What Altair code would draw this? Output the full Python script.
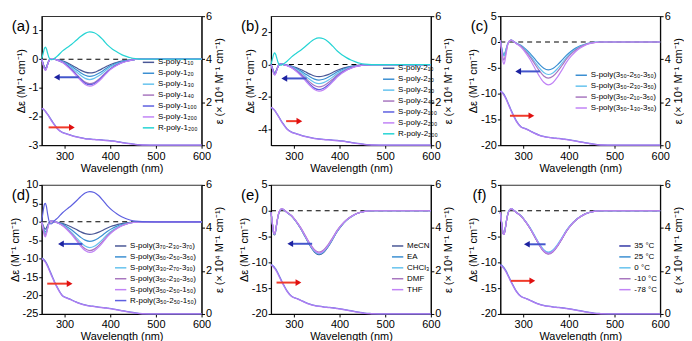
import altair as alt
import pandas as pd

FONT = "Liberation Sans"

# wavelength grid (nm)
W = [250, 253, 256, 258, 260, 263, 266, 270, 274, 278, 285, 295, 305, 315, 325,
     335, 345, 355, 365, 375, 385, 395, 405, 415, 425, 435, 445, 455, 470, 500, 600]

SLATE = "#4a5796"
STEEL = "#3b8fd2"
SKY = "#66c3ee"
MAUVE = "#a877bf"
VIOLET = "#5d5fe0"
LILAC = "#c183f6"
CYAN = "#25d4d4"
DKBLUE = "#3338a6"
UV_BLUE = "#5f78dc"
UV_LILAC = "#b07cf2"

# ---------------- panel (a) ----------------
A_NAMES = ["S-poly-1₁₀", "S-poly-1₂₀", "S-poly-1₃₀", "S-poly-1₄₀",
           "S-poly-1₁₀₀", "S-poly-1₂₀₀", "R-poly-1₂₀₀"]
A_CD = [
    [0.0, -0.15, -0.28, -0.32, -0.28, -0.15, -0.04, 0.02, 0.02, 0.0, -0.02, -0.06, -0.12, -0.20, -0.29, -0.38, -0.45, -0.48, -0.46, -0.39, -0.31, -0.23, -0.16, -0.11, -0.07, -0.04, -0.02, -0.01, 0.0, 0.0, 0.0],
    [0.0, -0.16, -0.30, -0.34, -0.30, -0.16, -0.04, 0.02, 0.02, 0.0, -0.02, -0.07, -0.15, -0.25, -0.36, -0.47, -0.56, -0.60, -0.57, -0.49, -0.39, -0.28, -0.20, -0.13, -0.08, -0.05, -0.02, -0.01, 0.0, 0.0, 0.0],
    [0.0, -0.16, -0.31, -0.35, -0.31, -0.17, -0.05, 0.02, 0.02, 0.0, -0.03, -0.09, -0.18, -0.29, -0.43, -0.56, -0.67, -0.71, -0.67, -0.58, -0.46, -0.33, -0.23, -0.16, -0.10, -0.06, -0.03, -0.01, 0.0, 0.0, 0.0],
    [0.0, -0.17, -0.32, -0.37, -0.32, -0.18, -0.05, 0.02, 0.02, 0.0, -0.03, -0.10, -0.21, -0.35, -0.51, -0.67, -0.80, -0.85, -0.81, -0.70, -0.55, -0.40, -0.28, -0.19, -0.12, -0.07, -0.03, -0.01, 0.0, 0.0, 0.0],
    [0.0, -0.17, -0.33, -0.38, -0.33, -0.18, -0.05, 0.02, 0.02, 0.0, -0.04, -0.11, -0.22, -0.36, -0.53, -0.70, -0.84, -0.89, -0.85, -0.73, -0.58, -0.42, -0.29, -0.20, -0.12, -0.07, -0.04, -0.01, 0.0, 0.0, 0.0],
    [0.0, -0.18, -0.34, -0.39, -0.34, -0.19, -0.05, 0.02, 0.02, 0.0, -0.04, -0.11, -0.24, -0.39, -0.56, -0.74, -0.88, -0.94, -0.89, -0.77, -0.61, -0.44, -0.31, -0.21, -0.13, -0.08, -0.04, -0.01, 0.0, 0.0, 0.0],
    [0.02, 0.20, 0.38, 0.42, 0.37, 0.20, 0.05, -0.02, -0.01, 0.03, 0.12, 0.28, 0.40, 0.51, 0.65, 0.79, 0.90, 0.95, 0.92, 0.82, 0.66, 0.48, 0.35, 0.25, 0.16, 0.10, 0.05, 0.02, 0.0, 0.0, 0.0],
]
A_UV1 = [1.70, 1.67, 1.62, 1.57, 1.51, 1.43, 1.34, 1.21, 1.08, 0.96, 0.76, 0.60, 0.53, 0.46, 0.40, 0.35, 0.31, 0.29, 0.27, 0.26, 0.24, 0.22, 0.20, 0.17, 0.13, 0.10, 0.07, 0.04, 0.02, 0.0, 0.0]
A_UV2 = [1.72, 1.69, 1.63, 1.58, 1.52, 1.42, 1.32, 1.18, 1.05, 0.93, 0.74, 0.59, 0.52, 0.45, 0.39, 0.34, 0.30, 0.28, 0.26, 0.25, 0.23, 0.21, 0.19, 0.16, 0.12, 0.09, 0.06, 0.03, 0.01, 0.0, 0.0]

# ---------------- panel (b) ----------------
B_NAMES = ["S-poly-2₁₀", "S-poly-2₂₀", "S-poly-2₃₀", "S-poly-2₄₀",
           "S-poly-2₁₀₀", "S-poly-2₂₀₀", "R-poly-2₂₀₀"]
B_CD = [
    [0.0, -0.22, -0.45, -0.52, -0.45, -0.25, -0.07, 0.03, 0.03, 0.0, -0.03, -0.09, -0.19, -0.31, -0.45, -0.59, -0.71, -0.75, -0.71, -0.62, -0.49, -0.35, -0.25, -0.17, -0.11, -0.06, -0.03, -0.01, 0.0, 0.0, 0.0],
    [0.0, -0.23, -0.47, -0.55, -0.47, -0.26, -0.07, 0.03, 0.03, 0.0, -0.04, -0.12, -0.24, -0.39, -0.58, -0.76, -0.90, -0.96, -0.91, -0.79, -0.62, -0.45, -0.32, -0.21, -0.13, -0.08, -0.04, -0.01, 0.0, 0.0, 0.0],
    [0.0, -0.24, -0.50, -0.58, -0.50, -0.28, -0.08, 0.03, 0.03, 0.0, -0.05, -0.14, -0.30, -0.48, -0.71, -0.93, -1.11, -1.18, -1.12, -0.97, -0.77, -0.55, -0.39, -0.26, -0.17, -0.09, -0.05, -0.02, 0.0, 0.0, 0.0],
    [0.0, -0.25, -0.52, -0.60, -0.52, -0.29, -0.08, 0.03, 0.03, 0.0, -0.06, -0.17, -0.35, -0.57, -0.83, -1.09, -1.30, -1.38, -1.31, -1.13, -0.90, -0.65, -0.46, -0.30, -0.19, -0.11, -0.06, -0.02, 0.0, 0.0, 0.0],
    [0.0, -0.26, -0.55, -0.63, -0.55, -0.30, -0.08, 0.03, 0.03, 0.0, -0.06, -0.19, -0.39, -0.64, -0.93, -1.22, -1.46, -1.55, -1.47, -1.27, -1.01, -0.73, -0.51, -0.34, -0.22, -0.12, -0.06, -0.02, 0.0, 0.0, 0.0],
    [0.0, -0.27, -0.57, -0.66, -0.57, -0.31, -0.08, 0.03, 0.03, 0.0, -0.07, -0.20, -0.41, -0.68, -0.99, -1.30, -1.55, -1.65, -1.57, -1.35, -1.07, -0.78, -0.54, -0.36, -0.23, -0.13, -0.07, -0.02, 0.0, 0.0, 0.0],
    [0.03, 0.35, 0.65, 0.72, 0.64, 0.35, 0.08, -0.04, -0.02, 0.05, 0.21, 0.48, 0.69, 0.89, 1.12, 1.37, 1.57, 1.65, 1.60, 1.42, 1.14, 0.84, 0.61, 0.43, 0.28, 0.17, 0.08, 0.03, 0.0, 0.0, 0.0],
]
B_UV1 = [1.74, 1.71, 1.66, 1.61, 1.55, 1.46, 1.36, 1.22, 1.08, 0.96, 0.76, 0.61, 0.54, 0.47, 0.41, 0.36, 0.32, 0.29, 0.27, 0.26, 0.24, 0.22, 0.20, 0.17, 0.13, 0.10, 0.07, 0.04, 0.02, 0.0, 0.0]
B_UV2 = [1.76, 1.73, 1.67, 1.62, 1.56, 1.45, 1.34, 1.19, 1.05, 0.93, 0.74, 0.60, 0.53, 0.46, 0.40, 0.35, 0.31, 0.28, 0.26, 0.25, 0.23, 0.21, 0.19, 0.16, 0.12, 0.09, 0.06, 0.03, 0.01, 0.0, 0.0]

# ---------------- panel (c) ----------------
C_NAMES = ["S-poly(3₅₀-2₅₀-3₅₀)", "S-poly(3₅₀-2₃₀-3₅₀)",
           "S-poly(3₅₀-2₁₀-3₅₀)", "S-poly(3₅₀-1₃₀-3₅₀)"]
C_CD = [
    [0.3, -1.2, -2.3, -2.5, -2.1, -1.2, -0.4, 0.2, 0.35, 0.15, -0.22, -0.65, -1.35, -2.21, -3.24, -4.27, -5.08, -5.40, -5.13, -4.43, -3.51, -2.54, -1.78, -1.19, -0.76, -0.43, -0.22, -0.08, 0.0, 0.0, 0.0],
    [0.3, -1.3, -2.5, -2.7, -2.3, -1.3, -0.4, 0.2, 0.35, 0.15, -0.25, -0.76, -1.58, -2.58, -3.78, -4.98, -5.92, -6.30, -5.99, -5.17, -4.10, -2.96, -2.08, -1.39, -0.88, -0.50, -0.25, -0.09, 0.0, 0.0, 0.0],
    [0.3, -1.6, -3.2, -3.5, -3.0, -1.7, -0.5, 0.2, 0.35, 0.15, -0.28, -0.84, -1.75, -2.87, -4.20, -5.53, -6.58, -7.00, -6.65, -5.74, -4.55, -3.29, -2.31, -1.54, -0.98, -0.56, -0.28, -0.11, 0.0, 0.0, 0.0],
    [0.3, -2.0, -3.9, -4.3, -3.7, -2.1, -0.6, 0.2, 0.35, 0.15, -0.33, -1.00, -2.08, -3.40, -4.98, -6.56, -7.80, -8.30, -7.89, -6.81, -5.40, -3.90, -2.74, -1.83, -1.16, -0.66, -0.33, -0.12, 0.0, 0.0, 0.0],
]
C_UV1 = [2.52, 2.49, 2.42, 2.36, 2.29, 2.16, 2.01, 1.81, 1.61, 1.43, 1.13, 0.86, 0.77, 0.67, 0.56, 0.47, 0.41, 0.37, 0.34, 0.32, 0.30, 0.27, 0.24, 0.20, 0.16, 0.12, 0.08, 0.05, 0.02, 0.0, 0.0]
C_UV2 = [2.50, 2.46, 2.38, 2.32, 2.25, 2.12, 1.97, 1.77, 1.57, 1.40, 1.11, 0.85, 0.76, 0.66, 0.55, 0.46, 0.40, 0.36, 0.33, 0.31, 0.29, 0.26, 0.23, 0.19, 0.15, 0.11, 0.07, 0.04, 0.01, 0.0, 0.0]

# ---------------- panel (d) ----------------
D_NAMES = ["S-poly(3₇₀-2₃₀-3₇₀)", "S-poly(3₅₀-2₅₀-3₅₀)", "S-poly(3₃₀-2₇₀-3₃₀)",
           "S-poly(3₅₀-2₃₀-3₅₀)", "S-poly(3₅₀-2₅₀-1₅₀)", "R-poly(3₅₀-2₅₀-1₅₀)"]
D_CD = [
    [0.0, -1.0, -1.8, -2.0, -1.7, -0.9, -0.2, 0.2, 0.2, 0.05, -0.14, -0.41, -0.85, -1.39, -2.04, -2.69, -3.20, -3.40, -3.23, -2.79, -2.21, -1.60, -1.12, -0.75, -0.48, -0.27, -0.14, -0.05, 0.0, 0.0, 0.0],
    [0.0, -1.3, -2.5, -2.8, -2.4, -1.3, -0.3, 0.2, 0.2, 0.05, -0.21, -0.64, -1.33, -2.17, -3.18, -4.19, -4.98, -5.30, -5.04, -4.35, -3.45, -2.49, -1.75, -1.17, -0.74, -0.42, -0.21, -0.08, 0.0, 0.0, 0.0],
    [0.0, -1.6, -3.0, -3.3, -2.8, -1.5, -0.4, 0.2, 0.2, 0.05, -0.28, -0.84, -1.75, -2.87, -4.20, -5.53, -6.58, -7.00, -6.65, -5.74, -4.55, -3.29, -2.31, -1.54, -0.98, -0.56, -0.28, -0.11, 0.0, 0.0, 0.0],
    [0.0, -1.8, -3.4, -3.7, -3.1, -1.7, -0.4, 0.2, 0.2, 0.05, -0.31, -0.94, -1.95, -3.20, -4.68, -6.16, -7.33, -7.80, -7.41, -6.40, -5.07, -3.67, -2.57, -1.72, -1.09, -0.62, -0.31, -0.12, 0.0, 0.0, 0.0],
    [0.0, -2.0, -3.8, -4.1, -3.4, -1.8, -0.5, 0.2, 0.2, 0.05, -0.33, -1.00, -2.08, -3.40, -4.98, -6.56, -7.80, -8.30, -7.89, -6.81, -5.40, -3.90, -2.74, -1.83, -1.16, -0.66, -0.33, -0.12, 0.0, 0.0, 0.0],
    [0.2, 2.8, 4.8, 5.0, 4.3, 2.0, 0.2, -0.6, -0.3, 0.3, 1.07, 2.38, 3.44, 4.43, 5.58, 6.81, 7.79, 8.20, 7.95, 7.05, 5.66, 4.18, 3.03, 2.13, 1.39, 0.82, 0.41, 0.16, 0.03, 0.0, 0.0],
]
D_UV1 = [2.60, 2.57, 2.50, 2.45, 2.38, 2.25, 2.10, 1.90, 1.70, 1.50, 1.20, 0.86, 0.75, 0.66, 0.56, 0.48, 0.42, 0.38, 0.35, 0.32, 0.30, 0.27, 0.24, 0.20, 0.16, 0.12, 0.08, 0.05, 0.02, 0.0, 0.0]
D_UV2 = [2.57, 2.53, 2.45, 2.40, 2.33, 2.20, 2.05, 1.85, 1.66, 1.47, 1.18, 0.85, 0.74, 0.65, 0.55, 0.47, 0.41, 0.37, 0.34, 0.31, 0.29, 0.26, 0.23, 0.19, 0.15, 0.11, 0.07, 0.04, 0.01, 0.0, 0.0]

# ---------------- panel (e) ----------------
E_NAMES = ["MeCN", "EA", "CHCl₃", "DMF", "THF"]
E_CD = [
    [-0.3, -2.6, -4.5, -4.7, -4.0, -2.2, -0.8, 0.1, 0.35, 0.15, -0.34, -1.02, -2.13, -3.49, -5.10, -6.72, -7.99, -8.50, -8.08, -6.97, -5.53, -4.00, -2.81, -1.87, -1.19, -0.68, -0.34, -0.13, 0.0, 0.0, 0.0],
    [-0.3, -2.6, -4.4, -4.6, -3.9, -2.2, -0.8, 0.1, 0.35, 0.15, -0.34, -1.01, -2.10, -3.44, -5.04, -6.64, -7.90, -8.40, -7.98, -6.89, -5.46, -3.95, -2.77, -1.85, -1.18, -0.67, -0.34, -0.13, 0.0, 0.0, 0.0],
    [-0.3, -2.5, -4.4, -4.6, -3.9, -2.2, -0.8, 0.1, 0.35, 0.15, -0.33, -1.00, -2.08, -3.40, -4.98, -6.56, -7.80, -8.30, -7.89, -6.81, -5.40, -3.90, -2.74, -1.83, -1.16, -0.66, -0.33, -0.12, 0.0, 0.0, 0.0],
    [-0.3, -2.5, -4.3, -4.5, -3.8, -2.1, -0.7, 0.15, 0.4, 0.2, -0.32, -0.96, -2.00, -3.28, -4.80, -6.32, -7.52, -8.00, -7.60, -6.56, -5.20, -3.76, -2.64, -1.76, -1.12, -0.64, -0.32, -0.12, 0.0, 0.0, 0.0],
    [-0.3, -2.5, -4.3, -4.5, -3.8, -2.1, -0.7, 0.15, 0.4, 0.2, -0.33, -0.98, -2.05, -3.36, -4.92, -6.48, -7.71, -8.20, -7.79, -6.72, -5.33, -3.85, -2.71, -1.80, -1.15, -0.66, -0.33, -0.12, 0.0, 0.0, 0.0],
]
E_UV1 = [2.30, 2.27, 2.21, 2.16, 2.10, 1.99, 1.86, 1.68, 1.50, 1.34, 1.07, 0.82, 0.73, 0.64, 0.54, 0.46, 0.40, 0.36, 0.33, 0.31, 0.29, 0.26, 0.23, 0.19, 0.15, 0.11, 0.07, 0.04, 0.02, 0.0, 0.0]
E_UV2 = [2.27, 2.23, 2.16, 2.11, 2.05, 1.94, 1.81, 1.64, 1.47, 1.31, 1.05, 0.81, 0.72, 0.63, 0.53, 0.45, 0.39, 0.35, 0.32, 0.30, 0.28, 0.25, 0.22, 0.18, 0.14, 0.10, 0.06, 0.03, 0.01, 0.0, 0.0]

# ---------------- panel (f) ----------------
F_NAMES = ["35 °C", "25 °C", "0 °C", "-10 °C", "-78 °C"]
F_CD = [
    [-0.3, -2.5, -4.4, -4.6, -3.9, -2.2, -0.8, 0.1, 0.35, 0.15, -0.33, -1.00, -2.08, -3.40, -4.98, -6.56, -7.80, -8.30, -7.89, -6.81, -5.40, -3.90, -2.74, -1.83, -1.16, -0.66, -0.33, -0.12, 0.0, 0.0, 0.0],
    [-0.3, -2.5, -4.3, -4.5, -3.8, -2.1, -0.7, 0.15, 0.4, 0.2, -0.33, -0.98, -2.05, -3.36, -4.92, -6.48, -7.71, -8.20, -7.79, -6.72, -5.33, -3.85, -2.71, -1.80, -1.15, -0.66, -0.33, -0.12, 0.0, 0.0, 0.0],
    [-0.3, -2.5, -4.3, -4.5, -3.8, -2.1, -0.7, 0.15, 0.4, 0.2, -0.32, -0.96, -2.00, -3.28, -4.80, -6.32, -7.52, -8.00, -7.60, -6.56, -5.20, -3.76, -2.64, -1.76, -1.12, -0.64, -0.32, -0.12, 0.0, 0.0, 0.0],
    [-0.3, -2.6, -4.4, -4.6, -3.9, -2.2, -0.8, 0.1, 0.35, 0.15, -0.34, -1.01, -2.10, -3.44, -5.04, -6.64, -7.90, -8.40, -7.98, -6.89, -5.46, -3.95, -2.77, -1.85, -1.18, -0.67, -0.34, -0.13, 0.0, 0.0, 0.0],
    [-0.3, -2.5, -4.4, -4.6, -3.9, -2.2, -0.8, 0.1, 0.4, 0.2, -0.33, -0.99, -2.06, -3.38, -4.95, -6.52, -7.75, -8.25, -7.84, -6.77, -5.36, -3.88, -2.72, -1.82, -1.15, -0.66, -0.33, -0.12, 0.0, 0.0, 0.0],
]
F_UV1 = [2.29, 2.26, 2.20, 2.15, 2.09, 1.98, 1.85, 1.67, 1.49, 1.33, 1.06, 0.82, 0.73, 0.64, 0.54, 0.46, 0.40, 0.36, 0.33, 0.31, 0.29, 0.26, 0.23, 0.19, 0.15, 0.11, 0.07, 0.04, 0.02, 0.0, 0.0]
F_UV2 = [2.26, 2.22, 2.15, 2.10, 2.04, 1.93, 1.80, 1.63, 1.46, 1.30, 1.04, 0.81, 0.72, 0.63, 0.53, 0.45, 0.39, 0.35, 0.32, 0.30, 0.28, 0.25, 0.22, 0.18, 0.14, 0.10, 0.06, 0.03, 0.01, 0.0, 0.0]

# arrows: [head wavelength, tail wavelength, value]  (blue -> left axis, red -> right axis)
BLUE_ARROWS = {"a": [283, 331, -0.63], "b": [279, 328, -0.86], "c": [289, 337, -5.7],
               "d": [292, 339, -6.0], "e": [292, 340, -6.4], "f": [308, 349, -6.5]}
RED_ARROWS = {"a": [265, 316, 0.83], "b": [283, 312, 1.12], "c": [271, 318, 1.37],
              "d": [262, 311, 1.41], "e": [262, 310, 1.46], "f": [273, 320, 1.54]}

PW, PH = 161, 130


def xdef(field="wl"):
    return alt.X(f"{field}:Q", scale=alt.Scale(domain=[250, 600], nice=False, zero=False),
                 axis=alt.Axis(values=[300, 400, 500, 600], title="Wavelength (nm)",
                               labelFlush=False, labelPadding=2, titlePadding=1))


def left_y(dom, vals):
    return alt.Y("cd:Q", scale=alt.Scale(domain=dom, nice=False, zero=False),
                 axis=alt.Axis(orient="left", values=vals, title="Δε (M⁻¹ cm⁻¹)",
                               labelExpr="'' + datum.value", labelFlush=False, titlePadding=2))


def right_y():
    return alt.Y("uv:Q", scale=alt.Scale(domain=[0, 6], nice=False, zero=False),
                 axis=alt.Axis(orient="right", values=[0, 2, 4, 6], title="ε (× 10⁴ M⁻¹ cm⁻¹)",
                               titleAngle=270, titleBaseline="top", labelFlush=False,
                               titlePadding=2))


def panel(tag, key, names, colors, cd, uv1, uv2, dom, vals, lx, ly):
    rows = []
    for n, series in zip(names, cd):
        for w, v in zip(W, series):
            rows.append({"wl": w, "cd": v, "series": n})
    cd_df = pd.DataFrame(rows)
    yl = left_y(dom, vals)
    zero = alt.Chart(pd.DataFrame({"wl": [250, 600], "cd": [0, 0]})).mark_line(
        color="black", strokeDash=[5, 4], strokeWidth=1.1).encode(x=xdef(), y=yl)
    lines = alt.Chart(cd_df).mark_line(strokeWidth=1.2, interpolate="monotone").encode(
        x=xdef(), y=yl,
        color=alt.Color("series:N", scale=alt.Scale(domain=names, range=colors),
                        legend=alt.Legend(orient="none", legendX=lx, legendY=ly, title=None,
                                          symbolType="stroke", symbolSize=130,
                                          symbolStrokeWidth=1.5, labelFontSize=8,
                                          labelFont=FONT, rowPadding=0, padding=0,
                                          labelOffset=3, labelLimit=200)))
    b = BLUE_ARROWS[key]
    bdf = pd.DataFrame({"wl": [b[0]], "wl2": [b[1]], "cd": [b[2]]})
    brule = alt.Chart(bdf).mark_rule(color="#4356cc", strokeWidth=2).encode(
        x=xdef(), x2="wl2:Q", y=yl)
    bhead = alt.Chart(bdf).mark_point(shape="triangle-left", filled=True, color="#1c22a0",
                                      size=45, opacity=1).encode(x=xdef(), y=yl)
    label = alt.Chart(pd.DataFrame({"t": [tag]})).mark_text(
        fontSize=15, font=FONT, align="center", baseline="middle", color="black").encode(
        text="t:N", x=alt.value(-21), y=alt.value(10))
    cd_layer = alt.layer(zero, lines, brule, bhead, label)

    yr = right_y()
    u1 = alt.Chart(pd.DataFrame({"wl": W, "uv": uv1})).mark_line(
        color=UV_BLUE, strokeWidth=1.3, interpolate="monotone").encode(x=xdef(), y=yr)
    u2 = alt.Chart(pd.DataFrame({"wl": W, "uv": uv2})).mark_line(
        color=UV_LILAC, strokeWidth=1.3, interpolate="monotone").encode(x=xdef(), y=yr)
    r = RED_ARROWS[key]
    rdf = pd.DataFrame({"wl": [r[0]], "wl2": [r[1]], "uv": [r[2]]})
    rrule = alt.Chart(rdf).mark_rule(color="#f03a2a", strokeWidth=2).encode(
        x=xdef(), x2="wl2:Q", y=yr)
    rhead = alt.Chart(rdf).mark_point(shape="triangle-right", filled=True, color="#e01010",
                                      size=45, opacity=1).encode(x=xdef("wl2"), y=yr)
    uv_layer = alt.layer(u1, u2, rrule, rhead)
    return alt.layer(cd_layer, uv_layer).resolve_scale(y="independent").properties(
        width=PW, height=PH)


pa = panel("(a)", "a", A_NAMES, [SLATE, STEEL, SKY, MAUVE, VIOLET, LILAC, CYAN], A_CD,
           A_UV1, A_UV2, [-3, 1.5], [-3, -2, -1, 0, 1], 101, 40)
pb = panel("(b)", "b", B_NAMES, [SLATE, STEEL, SKY, MAUVE, VIOLET, LILAC, CYAN], B_CD,
           B_UV1, B_UV2, [-5, 3], [-4, -2, 0, 2], 112, 46)
pc = panel("(c)", "c", C_NAMES, [STEEL, SKY, MAUVE, LILAC], C_CD,
           C_UV1, C_UV2, [-20, 5], [-20, -15, -10, -5, 0, 5], 75, 53)
pd_ = panel("(d)", "d", D_NAMES, [SLATE, STEEL, SKY, MAUVE, LILAC, VIOLET], D_CD,
            D_UV1, D_UV2, [-25, 10], [-25, -20, -15, -10, -5, 0, 5, 10], 73, 55)
pe = panel("(e)", "e", E_NAMES, [SLATE, STEEL, SKY, MAUVE, LILAC], E_CD,
           E_UV1, E_UV2, [-20, 5], [-20, -15, -10, -5, 0, 5], 121, 55)
pf = panel("(f)", "f", F_NAMES, [DKBLUE, STEEL, SKY, MAUVE, LILAC], F_CD,
           F_UV1, F_UV2, [-20, 5], [-20, -15, -10, -5, 0, 5], 119, 55)

chart = alt.concat(pa, pb, pc, pd_, pe, pf, columns=3,
                   spacing={"row": 40, "column": 70}, bounds="flush").resolve_scale(
    color="independent").properties(padding=0).configure(font=FONT).configure_axis(
    labelFont=FONT, titleFont=FONT, labelFontSize=11, titleFontSize=11,
    titleFontWeight="normal", labelColor="black", titleColor="black",
    domainColor="black", tickColor="black", tickSize=3, labelPadding=1, grid=False
).configure_view(stroke="#333333", strokeWidth=1.2)

chart.save("out.html", embed_options={"renderer": "svg", "actions": False})
